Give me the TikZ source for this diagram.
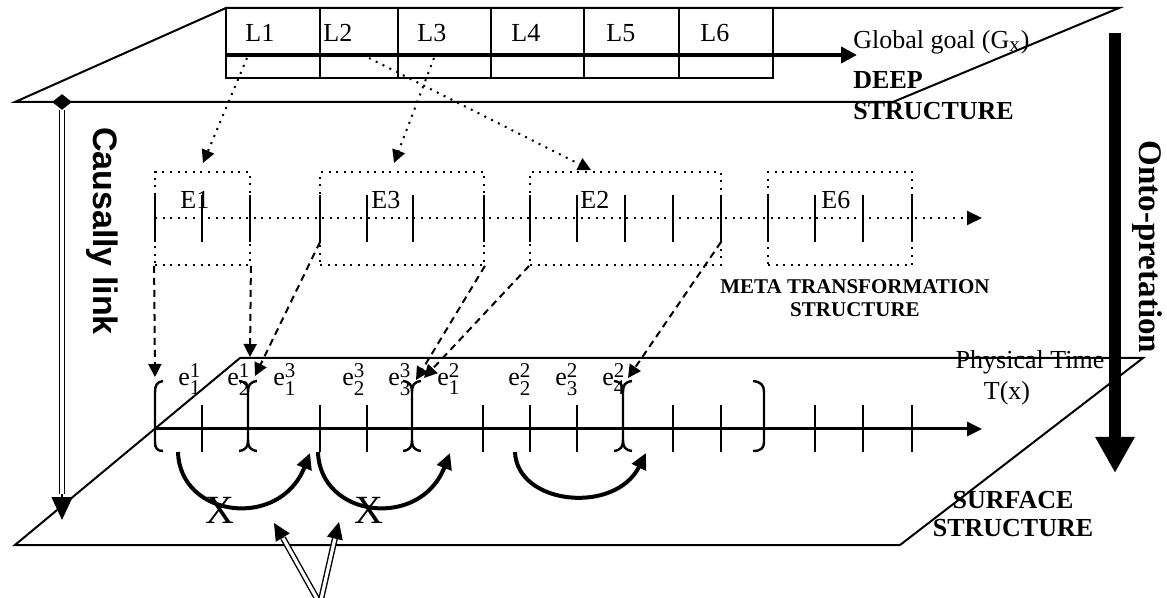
\documentclass[tikz,border=0pt]{standalone}
\usepackage{fontspec}
\usepackage{amsmath}
\setmainfont{Liberation Serif}
\newfontfamily\arialb{Liberation Sans}
\DeclareMathSizes{13}{13}{10.5}{8}
\usetikzlibrary{arrows.meta,shapes.geometric}

\tikzset{
  pl/.style={line width=1pt},
  tb/.style={line width=1.1pt},
  tk/.style={line width=1.2pt},
  dt/.style={dash pattern=on 1pt off 2.8pt, line width=1pt},
  ds/.style={dash pattern=on 3.5pt off 2.5pt, line width=1pt},
  dl/.style={double, double distance=1.6pt, line width=0.7pt},
  sm/.style={-{Triangle[length=6.5pt,width=6.5pt]}},
  jump/.style={line width=2pt, -{Triangle[length=8pt,width=7.5pt]}},
  lab/.style={anchor=west, inner sep=0pt},
  el/.style={anchor=base west, inner sep=0pt},
  ebox/.style={draw, dash pattern=on 1pt off 2.8pt, line width=0.9pt, minimum height=46.5pt, inner sep=0pt},
  ybr/.pic={\draw[tk] (0,392) -- (0,440) (0,392) .. controls (0,385) and (-2,382) .. (-9,381)
    (0,392) .. controls (0,385) and (2,382) .. (9,381)
    (0,440) .. controls (0,447) and (-2,450) .. (-9,451)
    (0,440) .. controls (0,447) and (2,450) .. (9,451);}
}

\begin{document}
\begin{tikzpicture}[x=0.5pt, y=-0.5pt, font=\fontsize{13pt}{15pt}\selectfont]
\useasboundingbox (0,0) rectangle (1167,598);

\draw[pl] (15,102) -- (226,8) -- (1119,8) -- (893,102) -- cycle;
\draw[pl] (15,545) -- (240,358) -- (1143,358) -- (900,545) -- cycle;

\draw[tb] (226,8) rectangle (773,78);
\draw[tb] (320,8) -- (320,78) (398,8) -- (398,78) (491,8) -- (491,78) (584,8) -- (584,78) (679,8) -- (679,78);
\node[lab] (l1) at (245,33) {L1}; \node[lab] (l2) at (323,33) {L2}; \node[lab] (l3) at (417,33) {L3};
\node[lab] (l4) at (511,33) {L4}; \node[lab] (l5) at (606,33) {L5}; \node[lab] (l6) at (700,33) {L6};
\coordinate (g0) at (226,55); \coordinate (g1) at (857,55);
\draw[line width=2pt, -{Triangle[length=8pt,width=8pt]}] (g0) -- (g1);
\node[lab] (gg) at (853,42) {Global goal (G\textsubscript{x})};
\node[lab, align=left, font=\fontsize{13pt}{15.5pt}\selectfont\bfseries] (deep) at (853,95.5) {DEEP\\STRUCTURE};

\node[ebox, minimum width=47.5pt] (b1) at (202.5,218.5) {};
\node[ebox, minimum width=82pt] (b3) at (402,218.5) {};
\node[ebox, minimum width=95.5pt] (b2) at (625.5,218.5) {};
\node[ebox, minimum width=72pt] (b6) at (840,218.5) {};
\coordinate (m0) at (155,218); \coordinate (m1) at (982,218);
\draw[dt, -{Triangle[length=7.5pt,width=7pt]}] (m0) -- (m1);
\draw[tk] (155,195) -- (155,242) (202,195) -- (202,242) (250,195) -- (250,242)
  (320,195) -- (320,242) (367,195) -- (367,242) (413,195) -- (413,242) (484,195) -- (484,242)
  (530,195) -- (530,242) (577,195) -- (577,242) (625,195) -- (625,242) (673,195) -- (673,242) (721,195) -- (721,242)
  (768,195) -- (768,242) (815,195) -- (815,242) (863,195) -- (863,242) (912,195) -- (912,242);
\node[lab] (n1) at (180,200) {E1}; \node[lab] (n3) at (371,200) {E3};
\node[lab] (n2) at (580,200) {E2}; \node[lab] (n6) at (821,200) {E6};
\node[font=\fontsize{10.5pt}{11.5pt}\selectfont\bfseries, align=center] (meta) at (855,298) {META TRANSFORMATION\\STRUCTURE};

\coordinate (q1) at (247,58); \coordinate (q2) at (369,58); \coordinate (q3) at (434,58);
\coordinate (t1) at (203,163); \coordinate (t2) at (591,170); \coordinate (t3) at (394,163);
\draw[dt, sm] (q1) -- (t1);
\draw[dt, sm] (q2) -- (t2);
\draw[dt, sm] (q3) -- (t3);

\coordinate (a0) at (155,429); \coordinate (a1) at (982,429);
\draw[line width=1.5pt, -{Triangle[length=7.5pt,width=7pt]}] (a0) -- (a1);
\draw[tk] (202,405) -- (202,452) (320,405) -- (320,452) (367,405) -- (367,452) (483,405) -- (483,452)
  (530,405) -- (530,452) (577,405) -- (577,452) (673,405) -- (673,452) (721,405) -- (721,452)
  (815,405) -- (815,452) (863,405) -- (863,452) (912,405) -- (912,452);
\draw[tk] (163,381) .. controls (157,382) and (155,385) .. (155,392) -- (155,442) .. controls (155,448) and (157,451) .. (163,451);
\draw[tk] (753,381) .. controls (761,382) and (764,385) .. (764,392) -- (764,442) .. controls (764,448) and (761,451) .. (753,451);
\pic at (248,0) {ybr}; \pic at (412,0) {ybr}; \pic at (623,0) {ybr};

\node[el] (s11) at (178,386) {$\text{e}_{\text{1}}^{\text{1}}$};
\node[el] (s21) at (227,386) {$\text{e}_{\text{2}}^{\text{1}}$};
\node[el] (s13) at (273,386) {$\text{e}_{\text{1}}^{\text{3}}$};
\node[el] (s23) at (342,386) {$\text{e}_{\text{2}}^{\text{3}}$};
\node[el] (s33) at (388,386) {$\text{e}_{\text{3}}^{\text{3}}$};
\node[el] (s12) at (437,386) {$\text{e}_{\text{1}}^{\text{2}}$};
\node[el] (s22) at (508,386) {$\text{e}_{\text{2}}^{\text{2}}$};
\node[el] (s32) at (555,386) {$\text{e}_{\text{3}}^{\text{2}}$};
\node[el] (s42) at (602,386) {$\text{e}_{\text{4}}^{\text{2}}$};

\coordinate (k3) at (320,242); \coordinate (k6) at (721,242);
\coordinate (p1) at (155,377); \coordinate (p2) at (250,357); \coordinate (p3) at (255,376);
\coordinate (p4) at (416,380); \coordinate (p5) at (424,378); \coordinate (p6) at (628,378);
\draw[ds, sm] (b1.south west) -- (p1);
\draw[ds, sm] (b1.south east) -- (p2);
\draw[ds, sm] (k3) -- (p3);
\draw[ds, sm] (b3.south east) -- (p4);
\draw[ds, sm] (b2.south west) -- (p5);
\draw[ds, sm] (k6) -- (p6);

\coordinate (j1a) at (178,452); \coordinate (j1b) at (310,453);
\coordinate (j2a) at (318,452); \coordinate (j2b) at (450,453);
\coordinate (j3a) at (515,452); \coordinate (j3b) at (646,453);
\draw[jump] (j1a) .. controls (180,518) and (280,530) .. (j1b);
\draw[jump] (j2a) .. controls (320,518) and (420,530) .. (j2b);
\draw[jump] (j3a) .. controls (517,505) and (615,515) .. (j3b);
\node[font=\fontsize{20pt}{24pt}\selectfont] (x1) at (220,510) {X};
\node[font=\fontsize{20pt}{24pt}\selectfont] (x2) at (369,510) {X};

\node (pt) at (1030,362) {Physical Time};
\node (tx) at (1007,393) {T(x)};
\node[font=\fontsize{13pt}{14pt}\selectfont\bfseries, align=center] (surf) at (1013,514) {SURFACE\\STRUCTURE};

\node[diamond, fill, inner sep=0pt, minimum width=10pt, minimum height=8pt] (dia) at (62,102) {};
\coordinate (c1) at (62,494); \coordinate (c2) at (62,520);
\draw[dl] (dia) -- (c1);
\draw[line width=0.6pt, -{Triangle[length=11.5pt,width=10.5pt]}] (c1) -- (c2);
\node[rotate=-90, font=\fontsize{17pt}{20pt}\selectfont\arialb\bfseries] (cl) at (102,231) {Causally link};

\coordinate (o1) at (1115,33); \coordinate (o2) at (1115,473);
\draw[line width=6pt, -{Triangle[length=18pt,width=18.5pt]}] (o1) -- (o2);
\node[rotate=-90, inner sep=1pt, font=\fontsize{16.5pt}{20pt}\selectfont\bfseries] (onto) at (1147,247) {Onto-pretation};

\coordinate (v0) at (320,604); \coordinate (v1) at (283,538); \coordinate (v2) at (335,538);
\coordinate (w1) at (274,523); \coordinate (w2) at (339,522);
\draw[dl] (v0) -- (v1);
\draw[dl] (v0) -- (v2);
\draw[line width=0.6pt, -{Triangle[length=8.5pt,width=8pt]}] (v1) -- (w1);
\draw[line width=0.6pt, -{Triangle[length=8.5pt,width=8pt]}] (v2) -- (w2);
\end{tikzpicture}
\end{document}
